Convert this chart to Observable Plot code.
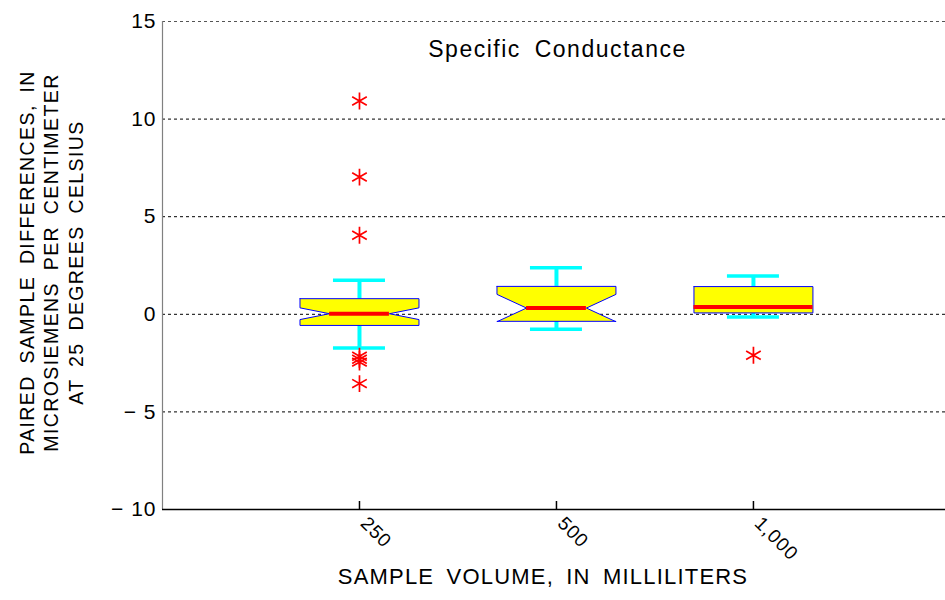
<!DOCTYPE html>
<html>
<head>
<meta charset="utf-8">
<script src="https://cdn.jsdelivr.net/npm/d3@7"></script>
<script src="https://cdn.jsdelivr.net/npm/@observablehq/plot@0.6"></script>
<style>
  html, body { margin: 0; padding: 0; background: #fff; }
  #chart svg { display: block; }
</style>
</head>
<body>
<div id="chart"></div>
<script>
// ---- data ----
const categories = ["250", "500", "1,000"];
const q1 = [-0.57, -0.36, 0.07];
const medians = [0.03, 0.32, 0.37];
const q3 = [0.80, 1.43, 1.42];
const notchLo = [-0.27, -0.38, 0.37];
const notchHi = [0.33, 1.02, 0.37];
const notched = [true, true, false];
const whiskerLo = [-1.73, -0.77, -0.14];
const whiskerHi = [1.74, 2.39, 1.96];
const outlierCategory = ["250", "250", "250", "250", "250", "250", "250", "1,000"];
const outlierValue = [10.93, 7.03, 4.05, -2.15, -2.30, -2.45, -3.55, -2.10];
const yTicks = [-10, -5, 0, 5, 10, 15];
const gridTicks = [-5, 0, 5, 10, 15];
const title = "Specific Conductance";
const xLabel = "SAMPLE VOLUME, IN MILLILITERS";
const yLabel = "PAIRED SAMPLE DIFFERENCES, IN\nMICROSIEMENS PER CENTIMETER\nAT 25 DEGREES CELSIUS";

// ---- derived tables ----
const HW = 0.302;   // box half width (x units)
const NW = 0.152;   // notch half width
const CW = 0.132;   // cap half width
const boxes = categories.map((c, i) => ({
  cat: c, pos: i + 1, q1: q1[i], med: medians[i], q3: q3[i],
  nlo: notchLo[i], nhi: notchHi[i], notched: notched[i],
  wlo: whiskerLo[i], whi: whiskerHi[i]
}));
const poly = [];
for (const b of boxes) {
  const p = b.pos;
  const pts = b.notched
    ? [[p - HW, b.q3], [p + HW, b.q3], [p + HW, b.nhi], [p + NW, b.med], [p + HW, b.nlo], [p + HW, b.q1],
       [p - HW, b.q1], [p - HW, b.nlo], [p - NW, b.med], [p - HW, b.nhi], [p - HW, b.q3]]
    : [[p - HW, b.q3], [p + HW, b.q3], [p + HW, b.q1], [p - HW, b.q1], [p - HW, b.q3]];
  for (const [x, y] of pts) poly.push({box: b.cat, x, y});
}
const outliers = outlierValue.map((v, i) => ({pos: categories.indexOf(outlierCategory[i]) + 1, v}));
const minus = d => d < 0 ? "\u2212 " + Math.abs(d) : String(d);

const font = "'Liberation Sans', Arial, Helvetica, sans-serif";

const chart = Plot.plot({
  width: 945,
  height: 600,
  marginTop: 21,
  marginBottom: 91,
  marginLeft: 162,
  marginRight: 0,
  style: {fontFamily: font, background: "white", color: "black", overflow: "visible"},
  x: {domain: [0, 3.975], axis: null},
  y: {domain: [-10, 15], axis: null},
  marks: [
    Plot.ruleY(gridTicks, {stroke: d => d === 15 ? "#555" : "#000", strokeDasharray: "3,3", strokeWidth: 1}),
    Plot.ruleX([0], {stroke: "#808080", strokeWidth: 1.2}),
    Plot.ruleY([-10], {stroke: "black", strokeWidth: 1.5}),
    Plot.ruleX(boxes, {x: "pos", insetTop: 480, stroke: "black", strokeWidth: 1.5}),
    // whiskers
    Plot.ruleX(boxes, {x: "pos", y1: "q3", y2: "whi", stroke: "#00ffff", strokeWidth: 4}),
    Plot.ruleX(boxes, {x: "pos", y1: "q1", y2: "wlo", stroke: "#00ffff", strokeWidth: 4}),
    Plot.ruleY(boxes, {y: "whi", x1: d => d.pos - CW, x2: d => d.pos + CW, stroke: "#00ffff", strokeWidth: 3.5}),
    Plot.ruleY(boxes, {y: "wlo", x1: d => d.pos - CW, x2: d => d.pos + CW, stroke: "#00ffff", strokeWidth: 3.5}),
    // boxes
    Plot.line(poly, {x: "x", y: "y", z: "box", fill: "#ffff00", stroke: "#0000ff", strokeWidth: 1, curve: "linear"}),
    // medians
    Plot.ruleY(boxes, {y: "med", x1: d => d.pos - (d.notched ? NW : HW), x2: d => d.pos + (d.notched ? NW : HW), stroke: "#ff0000", strokeWidth: 4}),
    // outliers
    Plot.dot(outliers, {x: "pos", y: "v", symbol: "asterisk", r: 8, stroke: "#ff0000", strokeWidth: 1.7}),
    // y tick labels
    Plot.text(yTicks, {y: d => d, frameAnchor: "left", dx: -6, textAnchor: "end", text: minus, fontSize: 21, fill: "black"}),
    // x tick labels
    Plot.text(boxes, {x: "pos", frameAnchor: "bottom", text: "cat", rotate: 45, textAnchor: "start", dx: 0, dy: 15, fontSize: 19, fill: "black"}),
    // title
    Plot.text([title], {frameAnchor: "top", dx: 3.5, dy: 19, fontSize: 23, fill: "black"}),
    // x label
    Plot.text([xLabel], {frameAnchor: "bottom", dx: -11, dy: 74, fontSize: 22, fill: "black"}),
    // y label
    Plot.text([yLabel], {frameAnchor: "left", dx: -112, dy: -3, rotate: -90, textAnchor: "middle", fontSize: 19.5, lineHeight: 1.26, fill: "black"})
  ]
});

// letter / word spacing to match the reference's loose text setting
d3.select(chart).selectAll("text").each(function () {
  const t = this.textContent;
  const s = d3.select(this);
  if (t === title) s.style("letter-spacing", "1.5px").style("word-spacing", "6px");
  else if (t === xLabel) s.style("letter-spacing", "1.2px").style("word-spacing", "5px");
  else if (t.startsWith("PAIRED")) s.style("letter-spacing", "1.4px").style("word-spacing", "5px");
  else s.style("letter-spacing", "1px");
});
document.getElementById("chart").append(chart);
</script>
</body>
</html>
